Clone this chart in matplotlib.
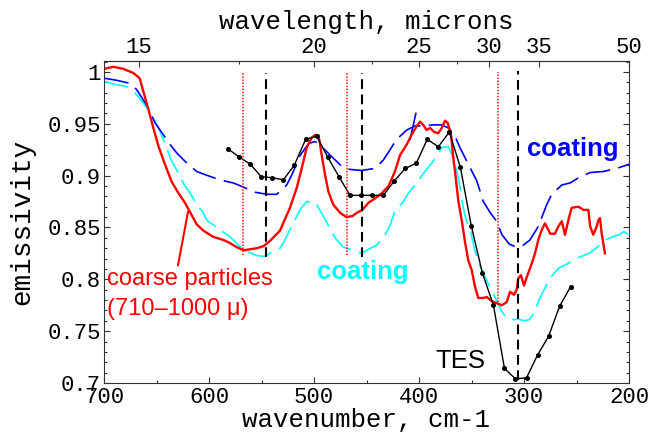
import numpy as np
import matplotlib
matplotlib.use("Agg")
import matplotlib.pyplot as plt
from matplotlib.ticker import FixedLocator, MultipleLocator

plt.rcParams['lines.scale_dashes'] = False

# ---------------- data ----------------
red_w = [700, 691, 681.6, 672, 666, 662.5, 658, 653, 648, 642, 635.5, 629, 623, 616.5, 611.7,
         605.4, 596, 586.4, 580, 573.6, 567, 561, 554.6, 548, 542, 532.4, 522.9, 516.5, 511.7,
         507, 502, 498.4, 495, 492.7, 489.5, 486.4, 481.6, 475, 468.9, 463.5, 459.4, 454, 448,
         442, 435.5, 429, 422.9, 418, 411.7, 407, 402, 399, 396, 392.7, 389.5, 385.4, 381.6,
         378.4, 375.2, 372.7, 369.5, 367.3, 365.7, 362.6, 359, 356, 353, 349.8, 346.7, 343.5,
         338.8, 335.5, 330.8, 326, 321.2, 316.5, 313.3, 309.5, 307, 305.4, 303, 300, 297.4,
         292.7, 289.5, 286.4, 283, 280, 275, 270.5, 267.3, 264, 261, 257, 254.6, 248, 243.5,
         238.7, 237, 234, 230.8, 229.2, 227.6, 226, 222.9]
red_e = [1.003, 1.005, 1.003, 0.999, 0.994, 0.981, 0.965, 0.946, 0.928, 0.911, 0.894, 0.883,
         0.874, 0.862, 0.853, 0.847, 0.841, 0.838, 0.835, 0.831, 0.828, 0.829, 0.830, 0.832,
         0.837, 0.847, 0.869, 0.888, 0.907, 0.927, 0.937, 0.9395, 0.935, 0.920, 0.901, 0.885,
         0.872, 0.864, 0.860, 0.861, 0.864, 0.867, 0.874, 0.878, 0.883, 0.890, 0.904, 0.920,
         0.930, 0.9395, 0.948, 0.952, 0.949, 0.944, 0.946, 0.942, 0.941, 0.946, 0.953, 0.951,
         0.9395, 0.917, 0.904, 0.876, 0.855, 0.835, 0.818, 0.809, 0.793, 0.782, 0.782, 0.783,
         0.779, 0.777, 0.775, 0.778, 0.788, 0.785, 0.790, 0.801, 0.804, 0.794, 0.802, 0.815,
         0.825, 0.838, 0.848, 0.854, 0.844, 0.844, 0.851, 0.856, 0.843, 0.860, 0.869, 0.870,
         0.867, 0.867, 0.851, 0.843, 0.851, 0.857, 0.859, 0.844, 0.825]

blue_w = [700, 688, 675, 668.9, 659.4, 651.4, 643.5, 637, 630.8, 621, 611.7, 603.8, 592.7,
          581.6, 576.9, 567.3, 556, 545, 535.5, 532.4, 526, 521, 513, 505, 499, 492.7, 484.8,
          473.6, 465.7, 454.6, 441.9, 434, 427.6, 421.3, 411.7, 403.8, 395.9, 386.4, 378.4,
          372, 365.7, 361, 353, 345, 338.7, 332, 326, 321, 314, 307, 300.7, 294.3, 286.4,
          278.4, 273.6, 264, 256, 248, 237, 224.5, 211.7, 200]
blue_e = [0.994, 0.992, 0.989, 0.983, 0.968, 0.951, 0.9395, 0.930, 0.922, 0.912, 0.904, 0.901,
          0.897, 0.894, 0.893, 0.889, 0.884, 0.882, 0.882, 0.885, 0.891, 0.901, 0.920, 0.931,
          0.933, 0.928, 0.920, 0.909, 0.906, 0.905, 0.907, 0.915, 0.925, 0.935, 0.944, 0.948,
          0.948, 0.949, 0.949, 0.946, 0.938, 0.927, 0.911, 0.895, 0.875, 0.864, 0.856, 0.843,
          0.834, 0.831, 0.833, 0.838, 0.851, 0.872, 0.882, 0.891, 0.893, 0.898, 0.903, 0.904,
          0.907, 0.911]
blue_glitch_w = [408.5, 403]
blue_glitch_e = [0.935, 0.960]

cyan_w = [700, 689.5, 678.4, 670.5, 662.6, 654.6, 646.7, 640.3, 637, 629, 622.9, 619.7, 611.7,
          605.4, 602, 591, 580, 572, 564, 554.6, 546.7, 538.8, 532.4, 529.3, 521.3, 513.3, 507,
          500, 497.4, 489.5, 480, 472, 462.6, 454.6, 449.8, 440.3, 432.4, 427.6, 422.9, 414.9,
          410.2, 403.8, 394.3, 386.4, 378.4, 372, 367.3, 365.7, 362, 358, 355.1, 350.8, 347.6,
          342.9, 336.5, 330.2, 323.8, 322, 315.9, 307.9, 306.4, 300, 295, 290.5, 285.7, 279.4,
          274.6, 266.7, 258.7, 250.8, 238, 230.2, 222.2, 215.9, 209.5, 204.8, 200]
cyan_e = [0.991, 0.988, 0.986, 0.980, 0.970, 0.959, 0.943, 0.927, 0.917, 0.902, 0.890, 0.886,
          0.872, 0.864, 0.857, 0.849, 0.841, 0.833, 0.827, 0.823, 0.822, 0.827, 0.830, 0.835,
          0.851, 0.867, 0.875, 0.875, 0.872, 0.858, 0.840, 0.831, 0.828, 0.825, 0.828, 0.833,
          0.843, 0.852, 0.866, 0.875, 0.883, 0.891, 0.904, 0.914, 0.927, 0.928, 0.917, 0.912,
          0.895, 0.870, 0.857, 0.847, 0.831, 0.815, 0.801, 0.788, 0.775, 0.770, 0.762, 0.761,
          0.762, 0.760, 0.761, 0.767, 0.780, 0.793, 0.802, 0.811, 0.815, 0.820, 0.825, 0.831,
          0.838, 0.841, 0.843, 0.846, 0.843]

tes_w = [582.2, 571.1, 560.7, 550.2, 539.7, 529.2, 518.8, 508.0, 497.4, 487.0, 476.2, 465.7,
         455.2, 444.4, 434.0, 423.5, 413.0, 402.6, 392.1, 381.6, 371.1, 360.6, 350.1, 339.6,
         329.1, 318.6, 308.1, 297.6, 287.1, 276.6, 266.1, 255.6]
tes_e = [0.926, 0.918, 0.911, 0.899, 0.898, 0.896, 0.910, 0.935, 0.938, 0.918, 0.899, 0.881,
         0.881, 0.881, 0.881, 0.895, 0.907, 0.912, 0.935, 0.928, 0.942, 0.908, 0.851, 0.806,
         0.775, 0.714, 0.704, 0.705, 0.727, 0.745, 0.774, 0.793]

red_mark_w = [567.6, 468.9, 324.5]
red_mark_top = [0.999, 0.999, 1.0]
red_mark_bot = [0.823, 0.823, 0.775]
blk_mark_w = [546.0, 454.0, 305.7]
blk_mark_top = [0.999, 0.999, 1.001]
blk_mark_bot = [0.822, 0.822, 0.703]

yticks = [0.7, 0.75, 0.8, 0.85, 0.9, 0.95, 1.0]
ytick_labels = ['0.7', '0.75', '0.8', '0.85', '0.9', '0.95', '1']
xticks = [700, 600, 500, 400, 300, 200]
top_ticks = [15, 20, 25, 30, 35, 50]
top_minor = [17.5, 22.5, 27.5]

# ---------------- figure ----------------
mono = ['Liberation Mono', 'DejaVu Sans Mono']
sans = ['Liberation Sans', 'DejaVu Sans']
spine_col = '#333333'

fig = plt.figure(figsize=(6.61, 4.38), dpi=100)
ax = fig.add_axes([104/661, 1-383/438, 525/661, (383-61)/438])

ax.plot(cyan_w, cyan_e, color='#00ffff', lw=1.2, dashes=(18, 6))
ax.plot(blue_w, blue_e, color='#0000ff', lw=1.2, dashes=(18, 6))
ax.plot(blue_glitch_w, blue_glitch_e, color='#0000ff', lw=1.2)
ax.plot(red_w, red_e, color='#ff0000', lw=1.7)
ax.plot(tes_w, tes_e, color='black', lw=1.0, marker='o', ms=2.6)

for w, t, b in zip(red_mark_w, red_mark_top, red_mark_bot):
    ax.plot([w, w], [b, t], color='#ff0000', lw=1.1, dashes=(1, 1.2))
for w, t, b in zip(blk_mark_w, blk_mark_top, blk_mark_bot):
    ax.plot([w, w], [b, t], color='black', lw=1.5, dashes=(7, 4))

# pointer from label to red curve
ax.plot([629.5, 620], [0.8137, 0.8649], color='#ff0000', lw=1.5)

ax.set_xlim(700, 200)
ax.set_ylim(0.7, 1.0106)

ax.set_xticks(xticks)
ax.set_xticklabels([str(v) for v in xticks])
ax.xaxis.set_minor_locator(MultipleLocator(50))
ax.set_yticks(yticks)
ax.set_yticklabels(ytick_labels)
ax.yaxis.set_minor_locator(MultipleLocator(0.01))
ax.tick_params(axis='both', which='both', direction='in', color=spine_col, width=0.8)
ax.tick_params(axis='y', which='both', right=True, left=True)
ax.tick_params(axis='x', which='both', top=False, bottom=True)
ax.tick_params(axis='both', which='major', length=4, labelsize=16)
ax.tick_params(axis='x', which='major', pad=3)
ax.tick_params(axis='y', which='major', pad=2)
ax.tick_params(axis='both', which='minor', length=2.5)
for lab in ax.get_xticklabels() + ax.get_yticklabels():
    lab.set_family(mono)
for s in ax.spines.values():
    s.set_color(spine_col)
    s.set_linewidth(0.8)

ax.set_xlabel('wavenumber, cm-1', family=mono, fontsize=18.5, labelpad=0)
ax.set_ylabel('emissivity', family=mono, fontsize=20, labelpad=9)


def fwd(x):
    x = np.asarray(x, dtype=float)
    with np.errstate(divide='ignore', invalid='ignore'):
        return 1e4 / x


sec = ax.secondary_xaxis('top', functions=(fwd, fwd))
sec.set_xticks(top_ticks)
sec.set_xticklabels([str(v) for v in top_ticks])
sec.xaxis.set_minor_locator(FixedLocator(top_minor))
sec.tick_params(axis='x', which='both', direction='in', color=spine_col, width=0.8)
sec.tick_params(axis='x', which='major', length=4, labelsize=16, pad=2)
sec.tick_params(axis='x', which='minor', length=2.5)
for lab in sec.get_xticklabels():
    lab.set_family(mono)
sec.spines['top'].set_color(spine_col)
sec.spines['top'].set_linewidth(0.8)
sec.set_xlabel('wavelength, microns', family=mono, fontsize=18.5, labelpad=6)

# annotations
ax.text(697.6, 0.7944, 'coarse particles', color='#ff0000', family=sans, fontsize=17,
        ha='left', va='baseline')
ax.text(697.6, 0.7654, '(710\u20131000 \u03bc)', color='#ff0000', family=sans, fontsize=17,
        ha='left', va='baseline')
ax.text(496.8, 0.800, 'coating', color='#00ffff', family=sans, fontsize=18.5,
        fontweight='bold', ha='left', va='baseline')
ax.text(296.8, 0.919, 'coating', color='#0000ff', family=sans, fontsize=18.5,
        fontweight='bold', ha='left', va='baseline')
ax.text(384.8, 0.714, 'TES', color='black', family=sans, fontsize=18.5,
        ha='left', va='baseline')

fig.savefig('out.png', dpi=100)
